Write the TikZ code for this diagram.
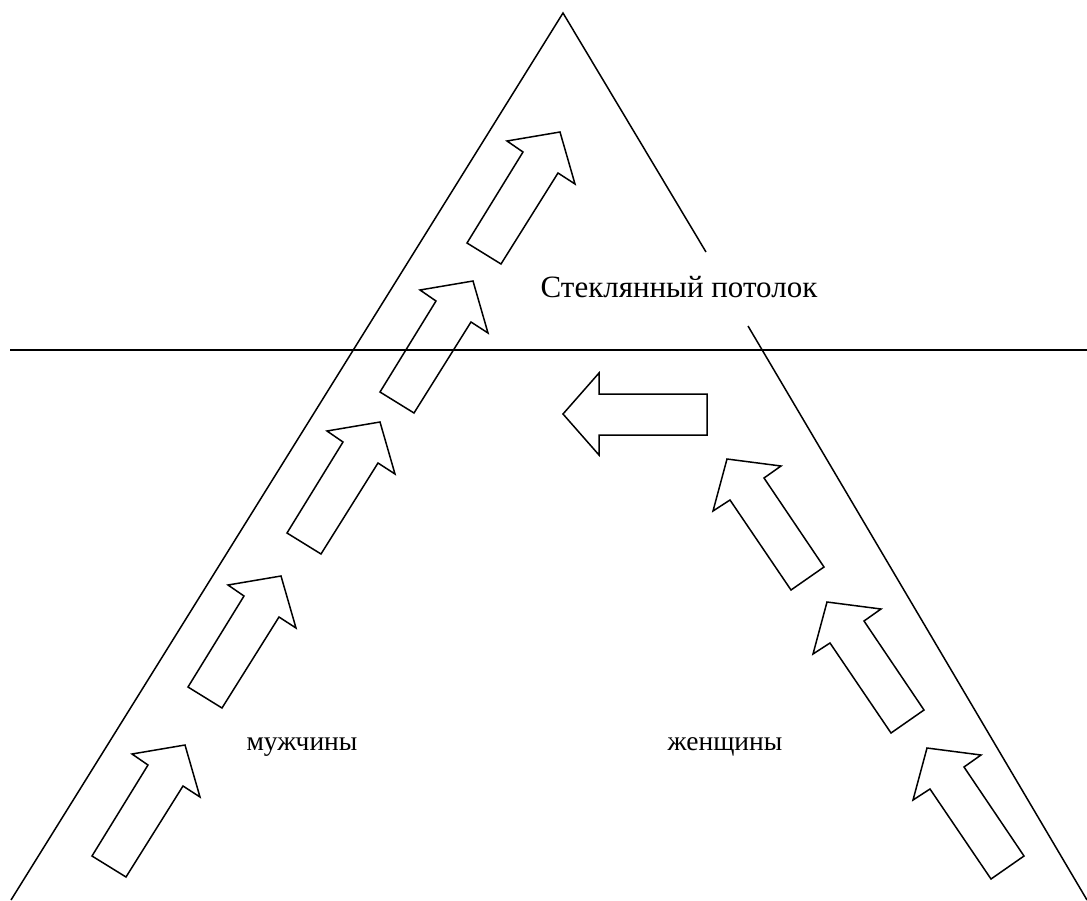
\documentclass[tikz,border=0pt]{standalone}
\usepackage{fontspec}
\setmainfont{Liberation Serif}
\begin{document}
\begin{tikzpicture}[x=1pt,y=-1pt,
  shapeline/.style={draw=black,line width=1.5pt,line join=miter},
  label/.style={font=\fontsize{27.5}{32}\selectfont,inner sep=0pt,anchor=center},
  biglabel/.style={font=\fontsize{31}{36}\selectfont,inner sep=0pt,anchor=center},
  upL/.pic={\draw[shapeline] (0,0) -- (34,21) -- (91,-70) -- (108,-59) -- (93,-111) -- (40,-102) -- (56,-91) -- cycle;},
  upR/.pic={\draw[shapeline] (0,0) -- (54,7) -- (37,19) -- (97,108) -- (64,131) -- (3,41) -- (-14,52) -- cycle;}]
\useasboundingbox (0,0) rectangle (1087,900);
% triangle sides and horizontal line
\coordinate (apex) at (563,13);
\coordinate (lb) at (11,900);
\coordinate (r1) at (706,252);
\coordinate (r2) at (748,326);
\coordinate (rb) at (1087,900);
\coordinate (h1) at (10,350);
\coordinate (h2) at (1087,350);
\draw[shapeline] (lb) -- (apex) -- (r1);
\draw[shapeline] (r2) -- (rb);
\draw[shapeline] (h1) -- (h2);
% left arrows
\pic at (92,856) {upL};
\pic at (188,687) {upL};
\pic at (287,533) {upL};
\pic at (380,392) {upL};
\pic at (467,243) {upL};
% right arrows
\pic at (927,748) {upR};
\pic at (827,602) {upR};
\pic at (727,459) {upR};
% horizontal arrow
\draw[shapeline] (563,414) -- (599,373) -- (599,394) -- (707,394) -- (707,435) -- (599,435) -- (599,455) -- cycle;
% texts
\node[biglabel] (ceiling) at (679,287) {Стеклянный потолок};
\node[label] (men) at (302,747) {мужчины};
\node[label] (women) at (725,747) {женщины};
\end{tikzpicture}
\end{document}
